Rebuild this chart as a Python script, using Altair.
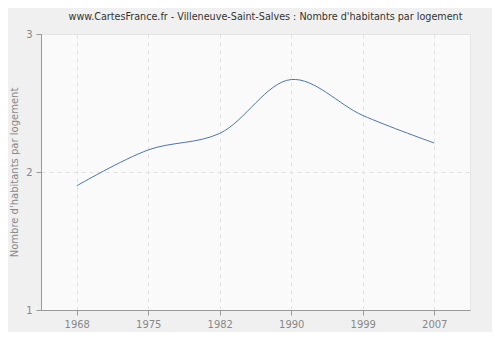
import altair as alt
import pandas as pd

years = ["1968", "1975", "1982", "1990", "1999", "2007"]
values = [1.90, 2.16, 2.28, 2.67, 2.41, 2.21]
y_ticks = [1.0, 2.0, 3.0]

df = pd.DataFrame({"annee": years, "valeur": values})

FONT = "DejaVu Sans"

line = alt.Chart(df).mark_line(
    interpolate="catmull-rom", color="#4a76ae", strokeWidth=1
).encode(
    x=alt.X(
        "annee:O",
        sort=years,
        scale=alt.Scale(type="point", padding=0.5),
        axis=alt.Axis(
            title=None, labelAngle=0, grid=True, gridDash=[4, 4], gridColor="#e2e2e2",
            domainColor="#999999", tickColor="#999999", tickSize=5,
            labelColor="#888888", labelFontSize=10, labelFont=FONT, labelPadding=4,
        ),
    ),
    y=alt.Y(
        "valeur:Q",
        scale=alt.Scale(domain=[1, 3], nice=False, zero=False),
        axis=alt.Axis(
            values=y_ticks, tickCount=3, labelExpr="format(datum.value, 'd')",
            title="Nombre d'habitants par logement", labelOverlap=False,
            titleColor="#888888", titleFontSize=10, titleFont=FONT, titleFontWeight="normal",
            titleX=-27, titleY=138, titleAngle=270, titleAlign="center", titleBaseline="middle",
            grid=True, gridDash=[4, 4], gridColor="#e2e2e2",
            domainColor="#999999", tickColor="#999999", tickSize=5,
            labelColor="#888888", labelFontSize=10, labelFont=FONT, labelPadding=4,
        ),
    ),
)

chart = line.properties(
    width=429,
    height=276,
    autosize=alt.AutoSizeParams(type="none"),
    padding={"left": 33, "top": 26, "right": 22, "bottom": 22},
    background="#f0f0f0",
    title=alt.TitleParams(
        "www.CartesFrance.fr - Villeneuve-Saint-Salves : Nombre d'habitants par logement",
        font="DejaVu Sans Condensed", fontSize=10.7, fontWeight="normal", color="#333333",
        anchor="middle", dx=10, offset=6,
    ),
).configure_view(fill="#fafafa", stroke="#e6e6e6")

chart.save("out.html", embed_options={"renderer": "svg", "actions": False})
